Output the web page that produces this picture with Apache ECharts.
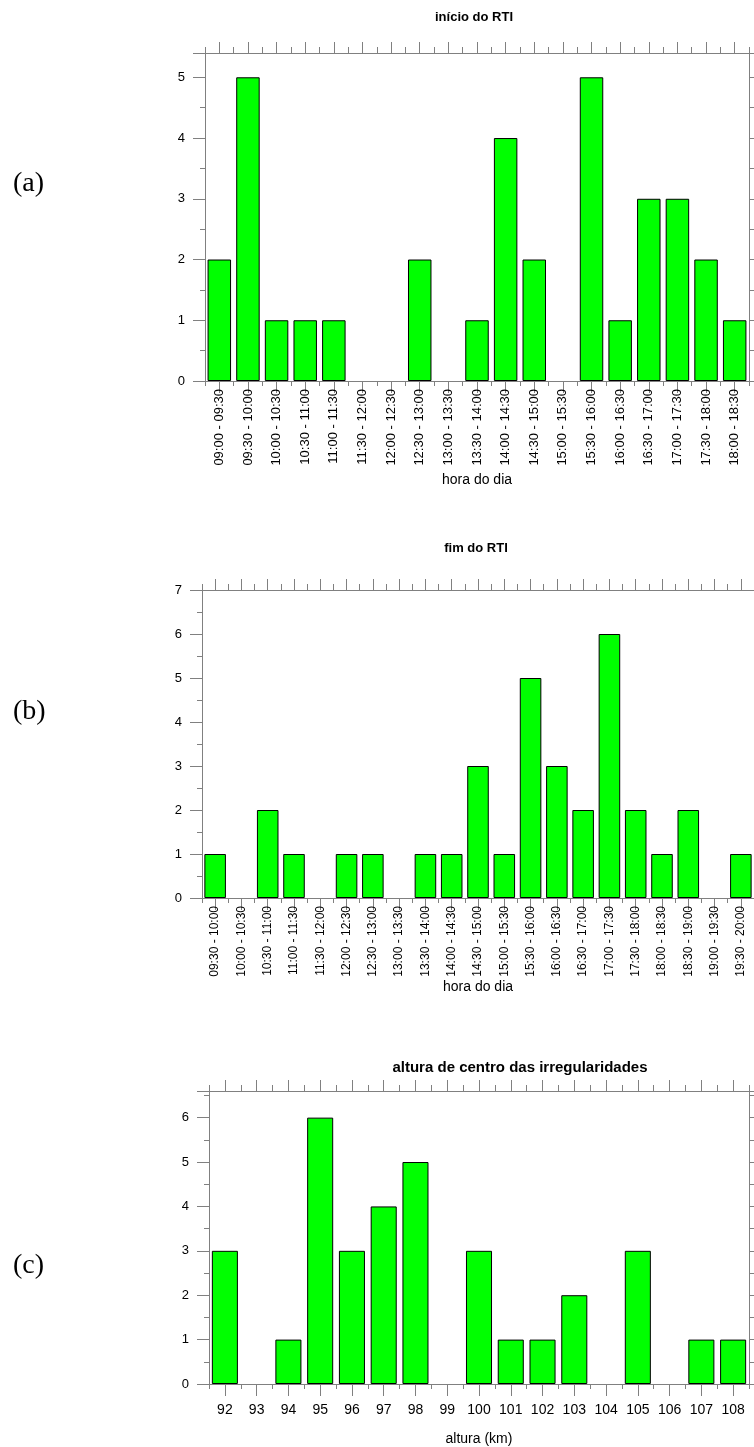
<!DOCTYPE html>
<html>
<head>
<meta charset="utf-8">
<script src="https://cdn.jsdelivr.net/npm/echarts@6/dist/echarts.min.js"></script>
<style>
html,body{margin:0;padding:0;background:#fff;}
#c{width:754px;height:1447px;}
</style>
</head>
<body>
<div id="c"></div>
<script>
// ---- data ----
var catsA = ["09:00 - 09:30","09:30 - 10:00","10:00 - 10:30","10:30 - 11:00","11:00 - 11:30","11:30 - 12:00","12:00 - 12:30","12:30 - 13:00","13:00 - 13:30","13:30 - 14:00","14:00 - 14:30","14:30 - 15:00","15:00 - 15:30","15:30 - 16:00","16:00 - 16:30","16:30 - 17:00","17:00 - 17:30","17:30 - 18:00","18:00 - 18:30"];
var valsA = [2,5,1,1,1,0,0,2,0,1,4,2,0,5,1,3,3,2,1];

var catsB = ["09:30 - 10:00","10:00 - 10:30","10:30 - 11:00","11:00 - 11:30","11:30 - 12:00","12:00 - 12:30","12:30 - 13:00","13:00 - 13:30","13:30 - 14:00","14:00 - 14:30","14:30 - 15:00","15:00 - 15:30","15:30 - 16:00","16:00 - 16:30","16:30 - 17:00","17:00 - 17:30","17:30 - 18:00","18:00 - 18:30","18:30 - 19:00","19:00 - 19:30","19:30 - 20:00"];
var valsB = [1,0,2,1,0,1,1,0,1,1,3,1,5,3,2,6,2,1,2,0,1];

var catsC = ["92","93","94","95","96","97","98","99","100","101","102","103","104","105","106","107","108"];
var valsC = [3,0,1,6,3,4,5,0,3,1,1,2,0,3,0,1,1];

var titles = ["início do RTI","fim do RTI","altura de centro das irregularidades"];
var xNames = ["hora do dia","hora do dia","altura (km)"];
var panelLabels = ["(a)","(b)","(c)"];
var yMax = [5.4, 7, 6.6];

// ---- layout ----
var grids = [
  {left:205, right:5, top:53, height:328},
  {left:202, right:-1, top:590, height:308},
  {left:209, right:5, top:1091, height:296}
];
var FONT = "Liberation Sans, Arial, sans-serif";
var AX = '#808080';

var option = {
  backgroundColor:'#fff',
  animation:false,
  title:[],
  grid:grids,
  xAxis:[],
  yAxis:[],
  series:[]
};

var cats=[catsA,catsB,catsC], vals=[valsA,valsB,valsC];
var titleTops=[6,537,1055];
var titleX=[469,471,515];
var titleSize=[13,13,15];
var panelTops=[165,693,1247];
var nameGaps=[92,82,48];
var labelRot=[90,90,0];
var labelSize=[13,12,14];
var labelMargin=[8,8,19];

function barData(arr){
  return arr.map(function(v){
    return v === 0 ? {value:v, itemStyle:{borderWidth:0}} : v;
  });
}

for (var g=0; g<3; g++){
  option.title.push({text:titles[g], left:titleX[g], top:titleTops[g], textAlign:'center',
    textStyle:{fontFamily:FONT,fontSize:titleSize[g],fontWeight:'bold',color:'#000'}});
  option.title.push({text:panelLabels[g], left:8, top:panelTops[g],
    textStyle:{fontFamily:"Liberation Serif, Times New Roman, serif",fontSize:28,fontWeight:'normal',color:'#000'}});

  // bottom: boundary ticks + labels
  option.xAxis.push({type:'category', gridIndex:g, position:'bottom', data:cats[g],
    name:xNames[g], nameLocation:'middle', nameGap:nameGaps[g],
    nameTextStyle:{fontFamily:FONT,fontSize:14,color:'#000'},
    axisLine:{lineStyle:{color:AX,width:1}},
    axisTick:{show:true,interval:0,length:5,lineStyle:{color:AX}},
    axisLabel:{interval:0, rotate:labelRot[g], margin:labelMargin[g], fontFamily:FONT, fontSize:labelSize[g], color:'#000'},
    splitLine:{show:false}});
  // bottom: centre ticks
  option.xAxis.push({type:'category', gridIndex:g, position:'bottom', data:cats[g],
    axisLine:{show:false},
    axisTick:{show:true,interval:0,alignWithLabel:true,length:12,lineStyle:{color:AX}},
    axisLabel:{show:false}, splitLine:{show:false}});
  // top: boundary ticks
  option.xAxis.push({type:'category', gridIndex:g, position:'top', data:cats[g],
    axisLine:{show:true,lineStyle:{color:AX}},
    axisTick:{show:true,interval:0,length:6,lineStyle:{color:AX}},
    axisLabel:{show:false}, splitLine:{show:false}});
  // top: centre ticks
  option.xAxis.push({type:'category', gridIndex:g, position:'top', data:cats[g],
    axisLine:{show:false},
    axisTick:{show:true,interval:0,alignWithLabel:true,length:11,lineStyle:{color:AX}},
    axisLabel:{show:false}, splitLine:{show:false}});

  option.yAxis.push({type:'value', gridIndex:g, position:'left', min:0, max:yMax[g], interval:1,
    axisLine:{show:true,lineStyle:{color:AX}},
    axisTick:{show:true,length:12,lineStyle:{color:AX}},
    minorTick:{show:true,splitNumber:2,length:5,lineStyle:{color:AX}},
    axisLabel:{margin:20,fontFamily:FONT,fontSize:13,color:'#000',
      showMaxLabel:(yMax[g]%1===0)},
    splitLine:{show:false}});
  option.yAxis.push({type:'value', gridIndex:g, position:'right', min:0, max:yMax[g], interval:0.5,
    axisLine:{show:true,lineStyle:{color:AX}},
    axisTick:{show:true,length:5,lineStyle:{color:AX}},
    axisLabel:{show:false}, splitLine:{show:false}});

  option.series.push({type:'bar', xAxisIndex:g*4, yAxisIndex:g*2, data:barData(vals[g]),
    barCategoryGap:'18%',
    itemStyle:{color:'#00ff00', borderColor:'#000', borderWidth:1}});
}

var chart = echarts.init(document.getElementById('c'), null, {renderer:'canvas'});
chart.setOption(option);
</script>
</body>
</html>
